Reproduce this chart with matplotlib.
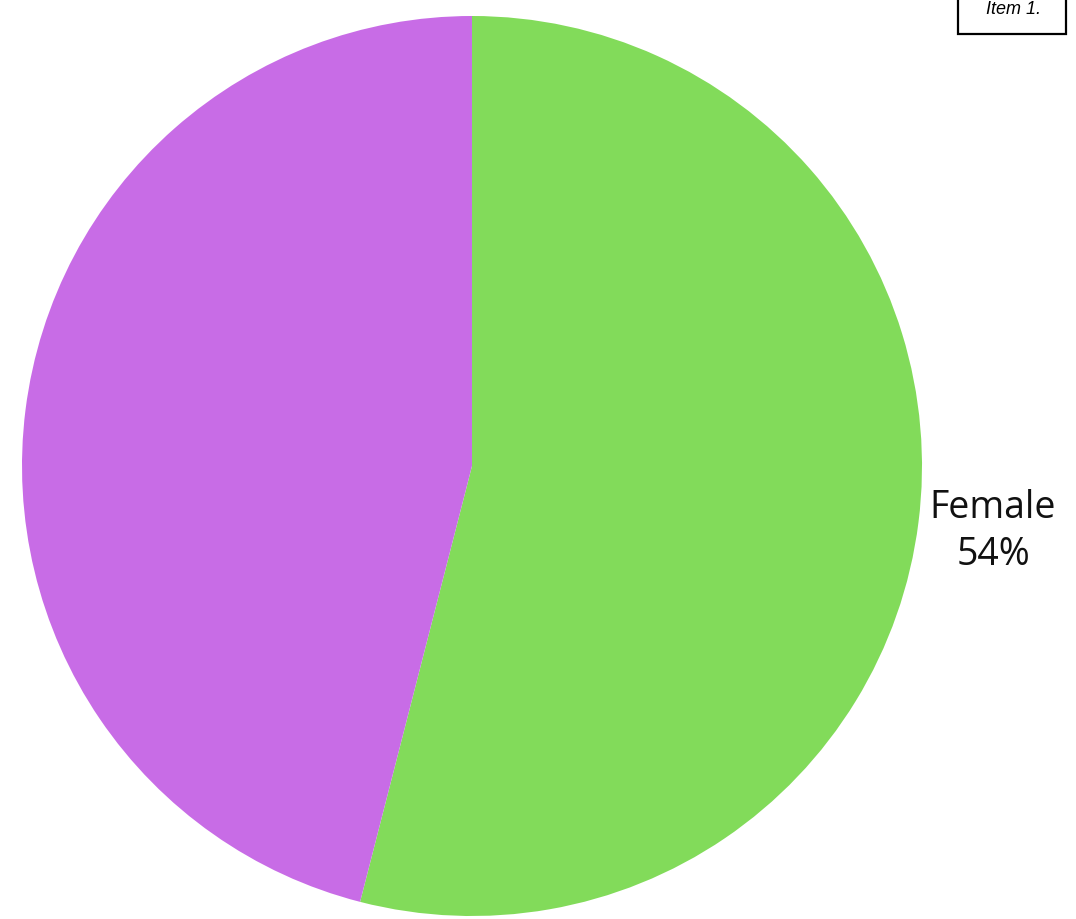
import matplotlib
matplotlib.use("Agg")
import matplotlib.pyplot as plt
from matplotlib.patches import Rectangle

# slice data
categories = ["Female", "Male"]
shares = [54, 46]
colors = ["#82DB5A", "#C86CE6"]
labels = ["Female\n54%", ""]   # only the female label is visible

W, H = 1076, 919
fig = plt.figure(figsize=(W / 100, H / 100), dpi=100)
ax = fig.add_axes([22 / W, 3 / H, 900 / W, 900 / H])

wedges, texts = ax.pie(shares, colors=colors, labels=labels, startangle=90,
                       counterclock=False, labeldistance=1.167,
                       wedgeprops=dict(linewidth=0),
                       textprops=dict(fontsize=27, family="Open Sans",
                                      fontweight="normal", color="#111111",
                                      linespacing=1.3))
for t in texts:
    t.set_ha("center")
    t.set_va("center")
ax.set_xlim(-1, 1)
ax.set_ylim(-1, 1)
ax.set_aspect("equal")
ax.axis("off")

# small boxed tag at top right
fig.patches.append(Rectangle((958 / W, 1 - 34 / H), 108 / W, 50 / H,
                             transform=fig.transFigure, fc="white",
                             ec="black", lw=1.6))
fig.text(1013 / W, 1 - 9 / H, "Item 1.", fontsize=13, style="italic",
         family="Liberation Sans", ha="center", va="center")

fig.savefig("out.png", dpi=100)
